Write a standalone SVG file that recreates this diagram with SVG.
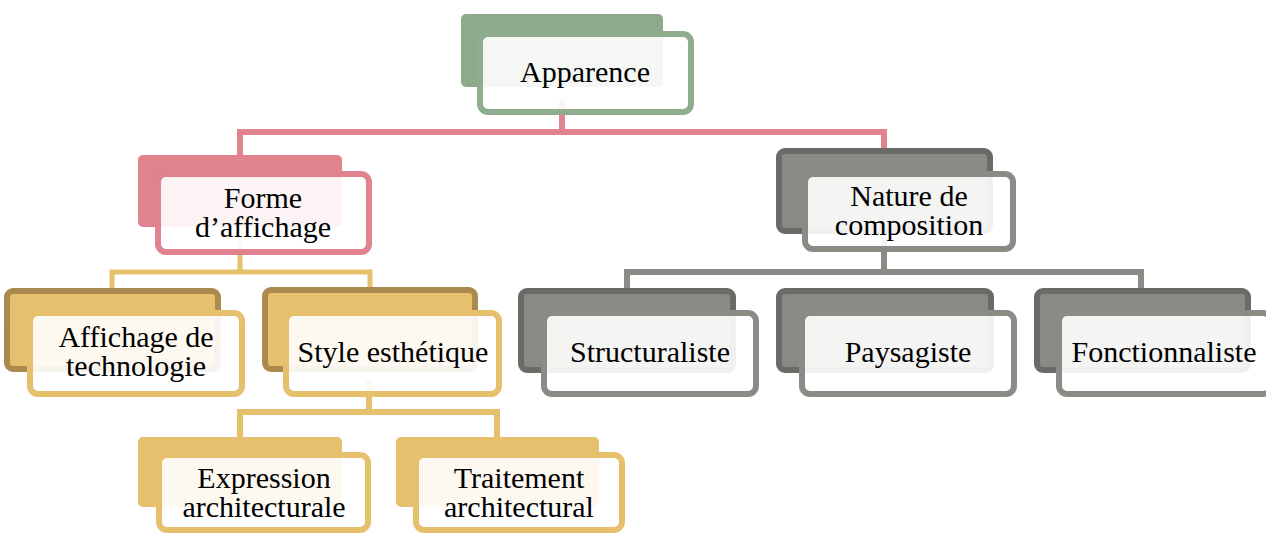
<svg xmlns="http://www.w3.org/2000/svg" width="1266" height="534" viewBox="0 0 1266 534">
<style>
.front{fill:#ffffff;fill-opacity:0.9;stroke-width:6}
.t{font-family:"Liberation Serif","Times New Roman",serif;font-size:30px;fill:#000;text-anchor:middle}
.conn{fill:none;stroke-linejoin:miter}
.green-b{fill:#8dab8c}
.green-f{stroke:#8fad8e}
.pink-b{fill:#e0838f}
.pink-f{stroke:#e0838f}
.gold-b{fill:#e6c06c}
.gold-bb{fill:#e6c06c;stroke:#aa8a4f;stroke-width:6}
.gold-f{stroke:#e6c06c}
.gray-bb{fill:#8a8a85;stroke:#6a6a67;stroke-width:6}
.gray-f{stroke:#8b8b86}
</style>
<g id="connectors">
<path class="conn" stroke="#e0838f" stroke-width="6" d="M240,165 V132 H884 V165 M562,100 V132"/>
<path class="conn" stroke="#e6c06c" stroke-width="5" d="M240,240 V272 M112,300 V272 H370 V300"/>
<path class="conn" stroke="#8b8b86" stroke-width="6" d="M884,240 V272 M627,300 V272 H1141 V300"/>
<path class="conn" stroke="#e6c06c" stroke-width="6" d="M369,380 V412 M240,445 V412 H497 V445"/>
</g>
<g id="apparence">
<rect class="green-b" x="461" y="14" width="202" height="73" rx="5"/>
<rect class="front green-f" x="480" y="34" width="211" height="78" rx="8"/>
<text class="t" x="585" y="82">Apparence</text>
</g>
<g id="forme">
<rect class="pink-b" x="138" y="155" width="204" height="72" rx="5"/>
<rect class="front pink-f" x="158" y="174" width="211" height="78" rx="8"/>
<text class="t" x="263" y="208">Forme</text>
<text class="t" x="263" y="237">d’affichage</text>
</g>
<g id="nature">
<rect class="gray-bb" x="779" y="151" width="211" height="80" rx="6"/>
<rect class="front gray-f" x="805" y="174" width="208" height="75" rx="8"/>
<text class="t" x="909" y="206">Nature de</text>
<text class="t" x="909" y="235">composition</text>
</g>
<g id="affichage">
<rect class="gold-bb" x="7" y="291" width="211" height="78" rx="6"/>
<rect class="front gold-f" x="30" y="313" width="212" height="81" rx="8"/>
<text class="t" x="136" y="347">Affichage de</text>
<text class="t" x="136" y="376">technologie</text>
</g>
<g id="style">
<rect class="gold-bb" x="265" y="290" width="210" height="79" rx="6"/>
<rect class="front gold-f" x="286" y="313" width="213" height="81" rx="8"/>
<text class="t" x="393" y="362">Style esthétique</text>
</g>
<g id="structuraliste">
<rect class="gray-bb" x="521" y="291" width="212" height="79" rx="6"/>
<rect class="front gray-f" x="544" y="313" width="212" height="81" rx="8"/>
<text class="t" x="650" y="362">Structuraliste</text>
</g>
<g id="paysagiste">
<rect class="gray-bb" x="779" y="291" width="212" height="79" rx="6"/>
<rect class="front gray-f" x="802" y="313" width="212" height="81" rx="8"/>
<text class="t" x="908" y="362">Paysagiste</text>
</g>
<g id="fonctionnaliste">
<rect class="gray-bb" x="1037" y="291" width="211" height="79" rx="6"/>
<rect class="front gray-f" x="1059" y="313" width="212" height="81" rx="8"/>
<text class="t" x="1164" y="362">Fonctionnaliste</text>
</g>
<g id="expression">
<rect class="gold-b" x="138" y="437" width="204" height="70" rx="5"/>
<rect class="front gold-f" x="159" y="455" width="209" height="75" rx="8"/>
<text class="t" x="264" y="488">Expression</text>
<text class="t" x="264" y="517">architecturale</text>
</g>
<g id="traitement">
<rect class="gold-b" x="396" y="437" width="203" height="70" rx="5"/>
<rect class="front gold-f" x="416" y="455" width="206" height="75" rx="8"/>
<text class="t" x="519" y="488">Traitement</text>
<text class="t" x="519" y="517">architectural</text>
</g>
</svg>
